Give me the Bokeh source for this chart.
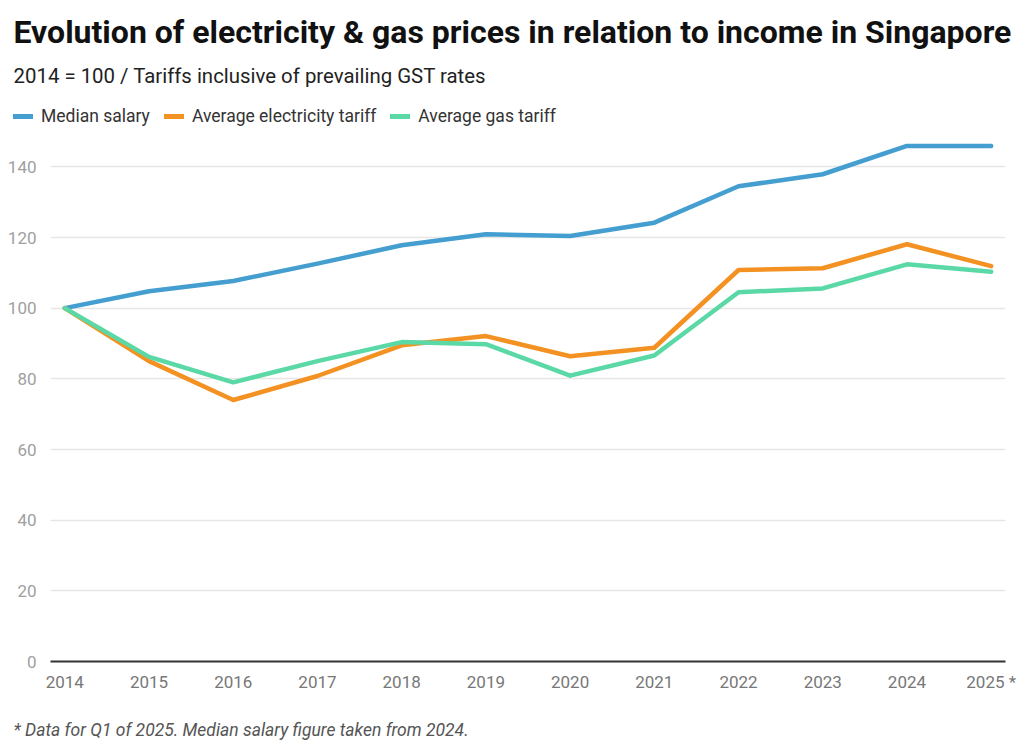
from bokeh.plotting import figure
from bokeh.models import Legend, LegendItem, FixedTicker, Range1d, Label
from bokeh.layouts import column
from bokeh.embed import file_html
from bokeh.resources import INLINE

years = [2014, 2015, 2016, 2017, 2018, 2019, 2020, 2021, 2022, 2023, 2024, 2025]
median_salary = [100, 104.8, 107.7, 112.6, 117.8, 120.9, 120.4, 124.2, 134.5, 137.9, 145.9, 145.9]
electricity = [100, 85.0, 74.0, 80.8, 89.5, 92.1, 86.4, 88.8, 110.8, 111.3, 118.1, 111.9]
gas = [100, 86.2, 79.0, 85.0, 90.4, 89.8, 80.9, 86.6, 104.5, 105.6, 112.4, 110.3]
series_names = ["Median salary", "Average electricity tariff", "Average gas tariff"]
colors = ["#449fd0", "#f39223", "#5ad8a5"]
y_ticks = [0, 20, 40, 60, 80, 100, 120, 140]
x_tick_labels = {2025: "2025 *"}

TITLE = "Evolution of electricity & gas prices in relation to income in Singapore"
SUBTITLE = "2014 = 100 / Tariffs inclusive of prevailing GST rates"
FOOTNOTE = "* Data for Q1 of 2025. Median salary figure taken from 2024."

FONT = "Roboto"


def text_panel(height):
    f = figure(width=1024, height=height, output_backend="svg", toolbar_location=None,
               x_range=Range1d(0, 1024), y_range=Range1d(height, 0),
               min_border=0, x_axis_type=None, y_axis_type=None)
    f.frame_align = False
    f.outline_line_color = None
    f.grid.visible = False
    return f


# ---------- header (title, subtitle, legend) ----------
head = text_panel(131)
head.add_layout(Label(x=13, y=31, text=TITLE, text_font=FONT, text_font_style="bold",
                      text_font_size="32px", text_color="#111111", text_baseline="middle"))
head.add_layout(Label(x=13, y=75, text=SUBTITLE, text_font=FONT,
                      text_font_size="20.4px", text_color="#222222", text_baseline="middle"))

# legend-only proxy lines (no visible marks)
nan = float("nan")
proxies = [head.line([nan], [nan], line_color=c, line_width=5, line_cap="round") for c in colors]
legend = Legend(items=[LegendItem(label=n, renderers=[r]) for n, r in zip(series_names, proxies)],
                orientation="horizontal", location=(13, 5),
                glyph_width=20, glyph_height=20, label_standoff=8, spacing=14,
                padding=0, margin=0, border_line_color=None, background_fill_alpha=0,
                label_text_font=FONT, label_text_font_size="17.5px", label_text_color="#333333")
head.add_layout(legend, "center")

# ---------- main chart ----------
p = figure(width=1024, height=569, output_backend="svg", toolbar_location=None,
           x_range=Range1d(2013.83, 2025.17), y_range=Range1d(0, 150),
           min_border_left=50, min_border_right=19, min_border_top=0,
           min_border_bottom=39)
p.frame_align = False
p.outline_line_color = None

for vals, c in zip([median_salary, electricity, gas], colors):
    p.line(years, vals, line_color=c, line_width=4.5, line_cap="round", line_join="round")

p.xaxis.ticker = FixedTicker(ticks=years)
p.xaxis.major_label_overrides = x_tick_labels
p.xaxis.axis_line_color = "#333333"
p.xaxis.axis_line_width = 2
p.xaxis.major_tick_line_color = None
p.xaxis.minor_tick_line_color = None
p.xaxis.major_label_standoff = 4
p.xaxis.major_label_text_font = FONT
p.xaxis.major_label_text_font_size = "17px"
p.xaxis.major_label_text_color = "#777777"

p.yaxis.ticker = FixedTicker(ticks=y_ticks)
p.yaxis.axis_line_color = None
p.yaxis.major_tick_line_color = None
p.yaxis.minor_tick_line_color = None
p.yaxis.major_label_standoff = 8
p.yaxis.major_label_text_font = FONT
p.yaxis.major_label_text_font_size = "17px"
p.yaxis.major_label_text_color = "#a0a0a0"

p.xgrid.grid_line_color = None
p.ygrid.grid_line_color = "#e6e6e6"
p.ygrid.grid_line_width = 1.5

# ---------- footer ----------
foot = text_panel(45)
foot.add_layout(Label(x=13, y=29, text=FOOTNOTE, text_font=FONT, text_font_style="italic",
                      text_font_size="17.5px", text_color="#555555", text_baseline="middle"))

layout = column(head, p, foot, spacing=0)
open("out.html", "w").write(file_html(layout, INLINE))
